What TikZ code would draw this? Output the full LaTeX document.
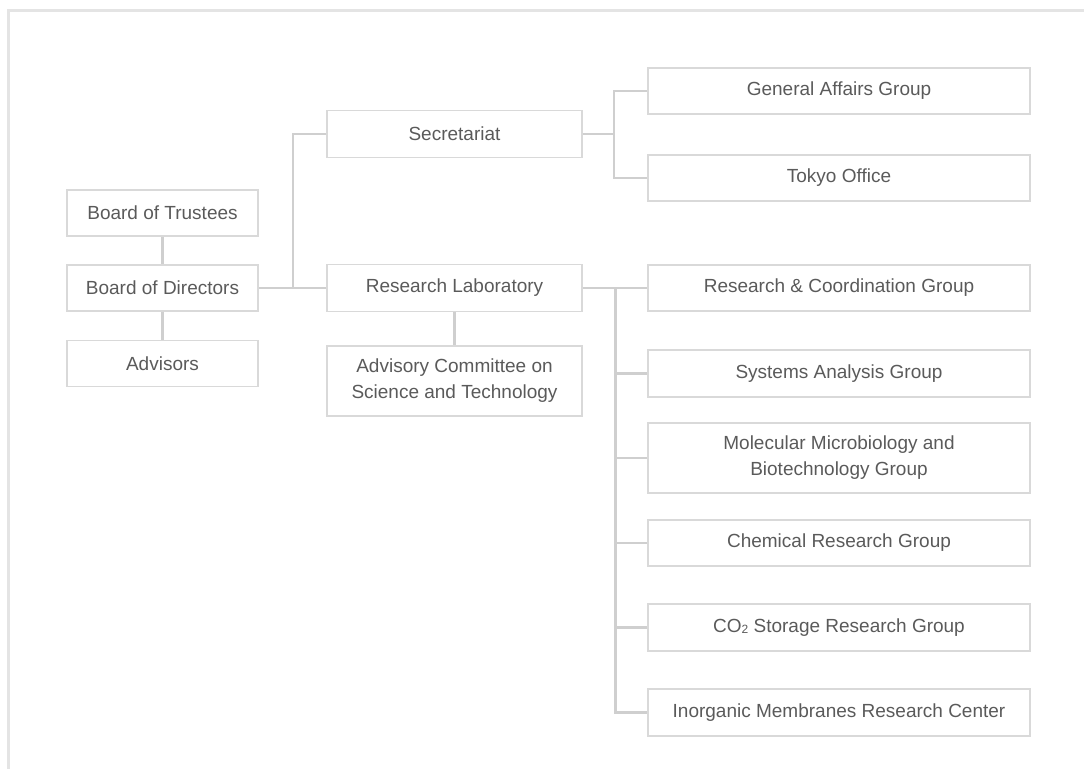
\documentclass[tikz,border=0pt]{standalone}
\usepackage{fontspec}
\setmainfont{Liberation Sans}
\begin{document}
\begin{tikzpicture}[x=1pt,y=-1pt,
  box/.style={draw=boxgray, line width=1.8pt, inner sep=0pt, align=center,
    text=txtgray, font=\fontsize{19}{26}\selectfont},
  lbox/.style={box, minimum width=191pt, minimum height=46pt},
  mbox/.style={box, minimum width=255pt, minimum height=47pt},
  rbox/.style={box, minimum width=382pt, minimum height=46pt},
  conn/.style={draw=linegray, line width=2.6pt},
  frame/.style={draw=framegray, line width=3pt}]
\definecolor{boxgray}{HTML}{D9D9D9}
\definecolor{linegray}{HTML}{CFCFCF}
\definecolor{framegray}{HTML}{E4E4E4}
\definecolor{txtgray}{HTML}{5A5A5A}
\useasboundingbox (0,0) rectangle (1084,769);
\draw[frame] (1084,10) -- (8.5,10) -- (8.5,769);

% left column
\node[lbox] (bot) at (162.5,213) {Board of Trustees};
\node[lbox] (bod) at (162.5,288) {Board of Directors};
\node[lbox] (adv) at (162.5,363.5) {Advisors};

% middle column
\node[mbox] (sec) at (454.5,134) {Secretariat};
\node[mbox] (rl) at (454.5,288) {Research Laboratory};
\node[mbox, minimum height=70pt] (acst) at (454.5,381) {Advisory Committee on\\Science and Technology};

% right column
\node[rbox] (ga) at (839,91) {General Affairs Group};
\node[rbox] (to) at (839,178) {Tokyo Office};
\node[rbox] (rc) at (839,288) {Research \& Coordination Group};
\node[rbox, minimum height=47pt] (sa) at (839,373.5) {Systems Analysis Group};
\node[rbox, minimum height=70pt] (mm) at (839,458) {Molecular Microbiology and\\Biotechnology Group};
\node[rbox] (ch) at (839,543) {Chemical Research Group};
\node[rbox, minimum height=47pt] (co) at (839,627.5) {CO\raisebox{-0.1ex}{\fontsize{12}{12}\selectfont 2} Storage Research Group};
\node[rbox, minimum height=47pt] (im) at (839,712.5) {Inorganic Membranes Research Center};

% junctions
\coordinate (j1) at (293,288);
\coordinate (j2) at (614,134);
\coordinate (j3) at (615.5,288);

% connectors
\draw[conn] (bot.south) -- (bod.north);
\draw[conn] (bod.south) -- (adv.north);
\draw[conn] (rl.south) -- (acst.north);
\draw[conn] (bod.east) -- (rl.west);
\draw[conn] (sec.west) -| (j1);
\draw[conn] (sec.east) -- (j2);
\draw[conn] (ga.west) -| (j2);
\draw[conn] (to.west) -| (j2);
\draw[conn] (rl.east) -- (rc.west);
\draw[conn] (j3) |- (im.west);
\draw[conn] (sa.west) -- (j3 |- sa.west);
\draw[conn] (mm.west) -- (j3 |- mm.west);
\draw[conn] (ch.west) -- (j3 |- ch.west);
\draw[conn] (co.west) -- (j3 |- co.west);
\end{tikzpicture}
\end{document}
